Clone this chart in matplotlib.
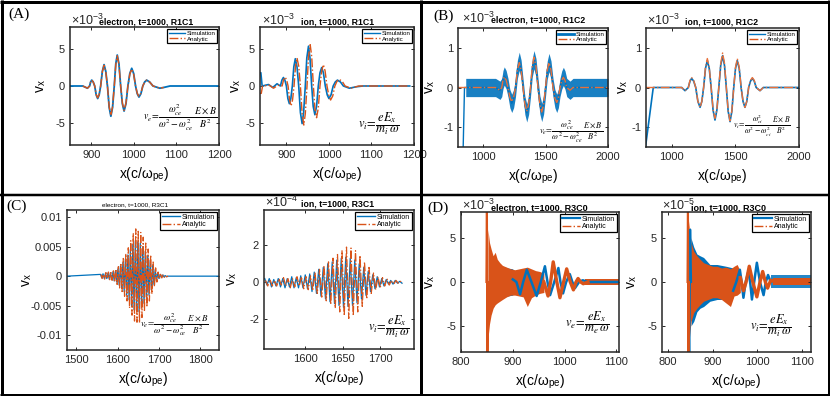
import matplotlib
matplotlib.use('Agg')
import matplotlib.pyplot as plt
import numpy as np
from matplotlib.lines import Line2D

plt.rcParams['font.family'] = ['Liberation Sans', 'DejaVu Sans']
plt.rcParams['mathtext.fontset'] = 'stix'
plt.rcParams['axes.unicode_minus'] = False

BLUE = '#0072BD'
ORANGE = '#D95319'

# ---------------- DATA ----------------
# (A) left: electron R1C1, values in 1e-3
a1_sim_x = [850, 880, 891, 896, 898.5, 901, 904.5, 908, 911.5, 915, 918.5, 922, 926, 930, 934, 938, 942, 946, 950, 954,
            957.5, 961, 965, 969, 973, 977, 981.5, 986, 990.5, 995, 999.5, 1004, 1008, 1012, 1016.5, 1021, 1025.5, 1030,
            1037, 1045, 1061, 1070, 1085, 1200]
a1_sim_y = [0, 0, -0.3, 0, 0.55, 0.8, 0.55, 0, -1.2, -1.7, -1.2, 0, 2.0, 2.9, 2.0, 0, -2.9, -4.1, -2.9, 0,
            3.0, 4.2, 3.0, 0, -2.4, -3.4, -2.4, 0, 1.7, 2.4, 1.7, 0, -1.05, -1.5, -1.05, 0, 0.55, 0.8,
            0.55, 0, -0.3, -0.2, 0, 0]
a1_ana_x = [880, 891, 896, 898.5, 901, 904.5, 908, 911.5, 915, 918.5, 922, 926, 930, 934, 938, 942, 946, 950, 954,
            957.5, 961, 965, 969, 973, 977, 981.5, 986, 990.5, 995, 999.5, 1004, 1008, 1012, 1016.5, 1021, 1025.5, 1030,
            1037, 1045, 1061, 1070]
a1_ana_y = [0, -0.3, 0, 0.55, 0.8, 0.55, 0, -1.15, -1.6, -1.15, 0, 1.95, 2.8, 1.95, 0, -2.8, -4.0, -2.8, 0,
            2.9, 4.1, 2.9, 0, -2.3, -3.3, -2.3, 0, 1.6, 2.3, 1.6, 0, -1.0, -1.4, -1.0, 0, 0.55, 0.8,
            0.55, 0, -0.3, -0.2]
# (A) right: ion R1C1, values in 1e-3
a2_sim_x = [838, 840, 843, 858, 868, 878, 886, 889.5, 893, 896.5, 900, 903.5, 907, 910.5, 914, 917.5, 921, 925, 929,
            933, 937, 940.5, 944.5, 948, 952, 955.5, 959.5, 963, 967, 971, 975, 979, 983, 987, 991.5, 996, 1000,
            1005, 1010, 1015, 1020, 1027, 1034, 1048, 1065, 1080, 1190]
a2_sim_y = [1.8, 1.8, 0, 0.2, -0.2, 0.3, 0, 0.8, 1.15, 0.8, 0, -1.7, -2.4, -1.7, 0, 2.6, 3.7, 2.6, 0,
            -3.6, -5.1, -3.6, 0, 3.8, 5.4, 3.8, 0, -2.75, -3.9, -2.75, 0, 1.8, 2.5, 1.8, 0, -1.2, -1.7,
            -1.2, 0, 0.55, 0.8, 0.55, 0, -0.3, -0.1, 0, 0]
a2_ana_x = [838, 841, 844, 860, 870, 880, 890, 893.5, 897, 900.5, 904, 907.5, 911, 914.5, 918, 921.5, 925, 929, 933,
            937, 941, 944.5, 948.5, 952, 956, 959.5, 963.5, 967, 971, 975, 979, 983, 987, 991, 995.5, 1000, 1004,
            1009, 1014, 1019, 1024, 1031, 1038, 1052, 1070, 1190]
a2_ana_y = [-1.0, -1.0, 0, 0.1, -0.3, 0.1, 0, 0.85, 1.2, 0.85, 0, -1.9, -2.7, -1.9, 0, 2.7, 3.8, 2.7, 0,
            -3.75, -5.3, -3.75, 0, 4.0, 5.6, 4.0, 0, -3.0, -4.3, -3.0, 0, 2.05, 2.9, 2.05, 0, -1.35, -1.9,
            -1.35, 0, 0.65, 0.9, 0.65, 0, -0.3, 0, 0]

# (B) left: electron R1C2, values in 1e-3
b1_ana_x = [800, 1100, 1136, 1150, 1160, 1170, 1185, 1200, 1215, 1230, 1245, 1260, 1275, 1290, 1305, 1320, 1335, 1350,
            1365, 1380, 1394, 1408, 1424, 1440, 1455, 1470, 1485, 1500, 1514, 1528, 1544, 1560, 1575, 1590, 1603, 1616,
            1630, 1643, 1656, 1670, 1696, 1720, 2000]
b1_ana_y = [0, 0, -0.07, 0, 0.19, 0.27, 0.19, 0, -0.25, -0.36, -0.25, 0, 0.44, 0.63, 0.44, 0, -0.42, -0.6,
            -0.42, 0, 0.53, 0.76, 0.53, 0, -0.43, -0.62, -0.43, 0, 0.44, 0.63, 0.44, 0, -0.27, -0.38, -0.27, 0,
            0.18, 0.26, 0.18, 0, -0.07, 0, 0]
b1_sim_x = [838, 852, 862, 1100, 1136, 1150, 1160, 1170, 1185, 1200, 1215, 1230, 1245, 1260, 1275, 1290, 1305, 1320,
            1335, 1350, 1365, 1380, 1394, 1408, 1424, 1440, 1455, 1470, 1485, 1500, 1514, 1528, 1544, 1560, 1575, 1590,
            1603, 1616, 1630, 1643, 1656, 1670, 1696, 1720, 2000]
b1_sim_y = [-2.0, 0, 0, 0, -0.07, 0, 0.2, 0.29, 0.2, 0, -0.28, -0.4, -0.28, 0, 0.46, 0.66, 0.46, 0,
            -0.45, -0.64, -0.45, 0, 0.5, 0.7, 0.5, 0, -0.44, -0.63, -0.44, 0, 0.44, 0.63, 0.44, 0, -0.28, -0.4,
            -0.28, 0, 0.19, 0.28, 0.19, 0, -0.07, 0, 0]
b1_noise_halfwidth = 0.23
# (B) right: ion R1C2, values in 1e-3
b2_ana_x = [800, 1080, 1106, 1132, 1145, 1158, 1174, 1190, 1207, 1224, 1238, 1252, 1266.5, 1281, 1296, 1311, 1326, 1341,
            1356, 1371, 1386, 1401, 1415.5, 1430, 1444.5, 1459, 1473.5, 1488, 1502, 1516, 1531, 1546, 1561, 1576,
            1590.5, 1605, 1619.5, 1634, 1649, 1664, 1694, 1720, 2000]
b2_ana_y = [0, 0, -0.08, 0, 0.18, 0.25, 0.18, 0, -0.35, -0.5, -0.35, 0, 0.51, 0.73, 0.51, 0, -0.55, -0.78,
            -0.55, 0, 0.61, 0.87, 0.61, 0, -0.59, -0.84, -0.59, 0, 0.51, 0.73, 0.51, 0, -0.35, -0.5,
            -0.35, 0, 0.18, 0.25, 0.18, 0, -0.08, 0, 0]
b2_sim_x = [790, 857, 1080, 1106, 1132, 1145, 1158, 1174, 1190, 1207, 1224, 1238, 1252, 1266.5, 1281, 1296, 1311, 1326,
            1341, 1356, 1371, 1386, 1401, 1415.5, 1430, 1444.5, 1459, 1473.5, 1488, 1502, 1516, 1531, 1546, 1561, 1576,
            1590.5, 1605, 1619.5, 1634, 1649, 1664, 1694, 1720, 2000]
b2_sim_y = [-1.65, 0, 0, -0.08, 0, 0.16, 0.23, 0.16, 0, -0.35, -0.5, -0.35, 0, 0.48, 0.68, 0.48, 0, -0.57,
            -0.82, -0.57, 0, 0.56, 0.8, 0.56, 0, -0.6, -0.86, -0.6, 0, 0.48, 0.68, 0.48, 0, -0.35, -0.5,
            -0.35, 0, 0.16, 0.23, 0.16, 0, -0.08, 0, 0]

# (C) left: electron R3C1 (values x1e-3), dense oscillation extrema
c1_ana_x = list(range(1560, 1723, 3))
c1_ana_y = [0.3, -0.4, 0.3, -0.5, 0.6, -0.4, 0.7, -0.6, 0.8, -0.7, 0.9, -1.0, 1.2,
            -1.4, 1.6, -2.0, 2.2, -2.6, 3.0, -3.4, 3.8,
            -4.2, 4.8, -5.4, 6.0, -6.6, 7.2, -7.6,
            8.0, -7.8, 7.6, -7.9, 7.4, -7.0, 6.6,
            -6.0, 5.6, -5.2, 4.6, -4.2, 3.6, -3.0,
            2.4, -1.8, 1.4, -1.0, 0.7, -0.5, 0.3,
            -0.3, 0.2, -0.2, 0.1, -0.1, 0.0]
c1_sim_x = [1478] + list(range(1559, 1722, 3)) + [1845]
c1_sim_y = [0, 0.3, -0.3, 0.4, -0.4, 0.5, -0.4, 0.5, -0.5, 0.6, -0.6, 0.7, -0.8, 0.9,
            -1.0, 1.2, -1.5, 1.7, -2.0, 2.3, -2.6, 2.9,
            -3.2, 3.6, -4.0, 4.5, -5.0, 5.4, -5.7,
            6.0, -6.0, 5.8, -6.0, 5.6, -5.3, 5.0,
            -4.6, 4.2, -3.9, 3.5, -3.2, 2.7, -2.3,
            1.8, -1.4, 1.1, -0.8, 0.5, -0.4, 0.3,
            -0.2, 0.2, -0.1, 0.1, -0.1, 0.0, 0]
# (C) right: ion R3C1, values in 1e-4
c2_ana_x = list(range(1547, 1731, 3))
c2_ana_y = [0.1, -0.2, 0.15, -0.2, 0.1, -0.2, 0.2, -0.15, 0.25, -0.2, 0.2, -0.3, 0.2, -0.25, 0.3, -0.2, 0.3, -0.35, 0.3, -0.4, 0.35, -0.45,
            0.5, -0.6, 0.7, -0.8, 0.9, -1.0, 1.1,
            -1.2, 1.3, -1.4, 1.5, -1.6, 1.7, -1.8,
            1.9, -1.95, 1.85, -1.8, 1.7, -1.6, 1.45,
            -1.3, 1.1, -0.9, 0.8, -0.6, 0.5, -0.4,
            0.3, -0.3, 0.25, -0.2, 0.2, -0.15, 0.1,
            -0.1, 0.1, -0.05, 0.05, -0.05]
c2_sim_x = list(range(1546, 1730, 3))
c2_sim_y = [0.2, -0.15, 0.2, -0.25, 0.15, -0.2, 0.2, -0.25, 0.2, -0.3, 0.2, -0.25, 0.3, -0.3, 0.25, -0.3, 0.35, -0.3, 0.4, -0.35, 0.45, -0.5,
            0.55, -0.6, 0.7, -0.75, 0.8, -0.9, 1.0,
            -1.05, 1.1, -1.15, 1.2, -1.25, 1.3, -1.35,
            1.35, -1.3, 1.3, -1.25, 1.2, -1.1, 1.0,
            -0.9, 0.8, -0.7, 0.6, -0.5, 0.4, -0.35,
            0.3, -0.25, 0.2, -0.2, 0.15, -0.1, 0.1,
            -0.1, 0.1, -0.05, 0.05, -0.05]

# (D) left: electron R3C0, values in 1e-3
d1_ana_spike_x = [849, 850, 851, 852]
d1_ana_spike_y = [0, 9.5, -9.5, 0]
d1_ana_band_x = [852, 855, 858, 862, 866, 870, 875, 880, 888, 896, 904, 912, 920, 928, 936, 944, 952, 960]
d1_ana_band_hi = [6.0, 4.5, 3.8, 3.0, 3.4, 2.6, 2.2, 1.9, 1.7, 1.5, 1.4, 1.5, 1.6, 1.7, 1.5, 1.3, 1.2, 1.0]
d1_ana_band_lo = [-6.5, -4.8, -3.8, -3.0, -2.6, -2.4, -2.2, -2.0, -1.7, -1.5, -1.5, -1.6, -1.7, -2.8, -1.8, -1.5, -1.3, -1.2]
d1_ana_x = [960, 968, 973, 978, 985, 991, 998, 1004, 1011, 1017, 1022, 1026, 1031, 1036, 1045]
d1_ana_y = [0.0, -1.6, 0, 2.3, 0, -1.8, 0, 1.5, 0, -0.9, 0, 0.4, 0, -0.2, 0]
d1_ana_tail_x = [1040, 1105]
d1_ana_tail_hi = [0.35, 0.35]
d1_ana_tail_lo = [-0.35, -0.35]
d1_sim_band_x = [853, 860, 870, 880, 890, 900]
d1_sim_band_hi = [4.0, 3.0, 2.2, 1.8, 1.6, 1.5]
d1_sim_band_lo = [-4.0, -3.0, -2.2, -1.8, -1.6, -1.5]
d1_sim_x = [900, 907, 914, 920, 927, 936, 946, 954, 962, 967, 972, 980, 988, 992, 997, 1003, 1010, 1015, 1020, 1028, 1035, 1045, 1105]
d1_sim_y = [0.3, 0, -1.4, 0, 1.4, 0, -1.6, 0, 1.8, 0, -1.5, 0, 1.6, 0, -1.3, 0, 0.9, 0, -0.7, 0, 0.2, 0, 0]

# (D) right: ion R3C0, values in 1e-5
d2_ana_spike_x = [844, 845, 846, 847]
d2_ana_spike_y = [0, 9.5, -9.5, 0]
d2_ana_band_x = [847, 852, 858, 865, 872, 880, 890, 900, 910, 920, 930, 940, 948, 955, 962]
d2_ana_band_hi = [7.0, 4.5, 3.5, 3.0, 2.6, 2.2, 2.0, 1.8, 1.8, 1.6, 1.7, 1.5, 1.8, 2.0, 1.2]
d2_ana_band_lo = [-7.0, -4.5, -3.5, -3.0, -2.6, -2.2, -2.0, -1.8, -1.8, -2.0, -2.4, -2.8, -1.6, -1.5, -1.2]
d2_ana_x = [962, 969, 975, 982, 990, 999, 1006, 1012, 1018, 1023, 1030, 1040]
d2_ana_y = [0.5, -1.0, 0, 1.8, 0, -1.7, 0, 1.2, 0, -0.7, 0.2, 0]
d2_ana_tail_x = [1035, 1120]
d2_ana_tail_hi = [0.4, 0.4]
d2_ana_tail_lo = [-0.4, -0.4]
d2_sim_spike_x = [846, 848, 850, 852]
d2_sim_spike_y = [0, -9.5, 6.0, 0]
d2_sim_band_x = [852, 858, 865, 872, 880, 894, 910, 930, 946]
d2_sim_band_hi = [5.0, 4.0, 3.2, 3.0, 2.8, 2.0, 2.0, 1.8, 1.6]
d2_sim_band_lo = [-5.0, -4.5, -3.4, -3.0, -2.8, -2.2, -2.0, -2.0, -1.8]
d2_sim_x = [946, 953, 961, 965, 969, 974, 980, 984, 988, 993, 999, 1006, 1014, 1019, 1024, 1030]
d2_sim_y = [-1.0, 0, 1.4, 0, -1.8, 0, 1.2, 0, -2.0, 0, 2.2, 0, -1.5, 0, 0.8, 0]
d2_sim_tail_x = [1030, 1120]
d2_sim_tail_hi = [0.8, 0.8]
d2_sim_tail_lo = [-0.7, -0.7]

legend_labels = ['Simulation', 'Analytic']

# ---------------- FIGURE ----------------
W, H = 830, 396
fig = plt.figure(figsize=(W / 100, H / 100), dpi=100)


def add_ax(l, t, r, b):
    return fig.add_axes([l / W, 1 - b / H, (r - l) / W, (b - t) / H])


def ftext(x, y, s, **kw):
    return fig.text(x / W, 1 - y / H, s, **kw)


def style(ax, xlim, ylim, xticks, yticks, ytl=None):
    ax.set_xlim(xlim)
    ax.set_ylim(ylim)
    ax.set_xticks(xticks)
    ax.set_yticks(yticks)
    if ytl is not None:
        ax.set_yticklabels(ytl)
    ax.tick_params(direction='in', length=2.5, width=0.7, labelsize=8, top=True, right=True, pad=3.5,
                   colors='#262626')
    for s in ax.spines.values():
        s.set_linewidth(1.1)
        s.set_color('#262626')


def legend(ax, simlw=1.0, fs=4.5):
    h = [Line2D([], [], color=BLUE, lw=simlw), Line2D([], [], color=ORANGE, lw=1.0, ls='-.')]
    lg = ax.legend(h, legend_labels, loc='upper right', fontsize=fs, frameon=True, fancybox=False,
                   edgecolor='black', framealpha=1, borderpad=0.2, labelspacing=0.05,
                   handlelength=2.6, handletextpad=0.3, borderaxespad=0.35)
    lg.get_frame().set_linewidth(0.9)


def labels(l, r, t, b, ylab_x):
    ftext(ylab_x, (t + b) / 2, 'v$_{\\mathregular{x}}$', rotation=90, ha='center', va='center', fontsize=10)
    ftext((l + r) / 2, b + 30, 'x(c/ω$_{\\mathregular{pe}}$)', ha='center', va='center', fontsize=10)


def title(cx, y, s, fs=6.3, weight='bold'):
    ftext(cx, y, s, ha='center', va='baseline', fontsize=fs, fontweight=weight)


def expo(x, y, p):
    ftext(x, y, '×10$^{\\mathregular{%s}}$' % p, ha='left', va='baseline', fontsize=9, color='#262626')


fe = r'$v_e\!=\!\dfrac{\omega_{ce}^2}{\omega^2-\omega_{ce}^2}\,\dfrac{E\times B}{B^2}$'
fi = r'$v_i\!=\!\dfrac{\omega_{ci}^2}{\omega^2-\omega_{ci}^2}\,\dfrac{E\times B}{B^2}$'
fie = r'$v_i\!=\!\dfrac{eE_x}{m_i\,\omega}$'
fee = r'$v_e\!=\!\dfrac{eE_x}{m_e\,\omega}$'

# ---- (A) left
L, T, R, B = 70, 27, 219, 145
ax = add_ax(L, T, R, B)
ax.plot(a1_sim_x, a1_sim_y, color=BLUE, lw=1.3)
ax.plot(a1_ana_x, a1_ana_y, color=ORANGE, lw=1.0, ls='-.')
style(ax, (850, 1200), (-8, 8), [900, 1000, 1100, 1200], [-5, 0, 5])
legend(ax)
ftext(217, 118, fe, ha='right', va='center', fontsize=7)
labels(L, R, T, B, 41)
expo(71, 25, '-3')
title(146, 24, 'electron, t=1000, R1C1')

# ---- (A) right
L, T, R, B = 260, 27, 414, 145
ax = add_ax(L, T, R, B)
ax.plot(a2_sim_x, a2_sim_y, color=BLUE, lw=1.2)
ax.plot(a2_ana_x, a2_ana_y, color=ORANGE, lw=1.0, ls='-.')
style(ax, (838, 1190), (-8, 8), [900, 1000, 1100, 1200], [-5, 0, 5])
legend(ax)
ftext(400, 124, fie, ha='right', va='center', fontsize=9)
labels(L, R, T, B, 236)
expo(262, 25, '-3')
title(338, 24, 'ion, t=1000, R1C1')

# ---- (B) left
L, T, R, B = 458, 28, 608, 147
ax = add_ax(L, T, R, B)
sx = np.array(b1_sim_x[2:])
sy = np.array(b1_sim_y[2:])
ax.fill_between(sx, sy - b1_noise_halfwidth, sy + b1_noise_halfwidth, color=BLUE, lw=0, alpha=0.9)
ax.plot(b1_sim_x, b1_sim_y, color=BLUE, lw=1.0)
ax.plot(b1_ana_x, b1_ana_y, color='#E8703A', lw=1.0, ls='-.')
style(ax, (800, 2000), (-1.5, 1.5), [1000, 1500, 2000], [-1, 0, 1])
legend(ax, simlw=2.0)
ftext(603, 132, fe, ha='right', va='center', fontsize=6)
labels(L, R, T, B, 430)
expo(462, 23, '-3')
title(538, 23, 'electron, t=1000, R1C2')

# ---- (B) right
L, T, R, B = 646, 28, 799, 147
ax = add_ax(L, T, R, B)
ax.plot(b2_sim_x, b2_sim_y, color=BLUE, lw=1.2)
ax.plot(b2_ana_x, b2_ana_y, color='#E8703A', lw=1.0, ls='-.')
style(ax, (800, 2000), (-1.5, 1.5), [1000, 1500, 2000], [-1, 0, 1])
legend(ax)
ftext(791, 126, fi, ha='right', va='center', fontsize=5.6)
labels(L, R, T, B, 623)
expo(647, 25, '-3')
title(722, 24, 'ion, t=1000, R1C2')

# ---- (C) left
L, T, R, B = 67, 210, 219, 350
ax = add_ax(L, T, R, B)
ax.plot(c1_sim_x, np.array(c1_sim_y) * 1e-3, color=BLUE, lw=0.9)
ax.plot(c1_ana_x, np.array(c1_ana_y) * 1e-3, color=ORANGE, lw=0.9, ls='-.')
style(ax, (1478, 1845), (-0.0125, 0.0112), [1500, 1600, 1700, 1800],
      [-0.01, -0.005, 0, 0.005, 0.01], ['-0.01', '-0.005', '0', '0.005', '0.01'])
legend(ax, fs=5)
ftext(209, 325, fe, ha='right', va='center', fontsize=6.5)
labels(L, R, T, B, 27)
title(135, 206, 'electron, t=1000, R3C1', fs=4.6, weight='normal')

# ---- (C) right
L, T, R, B = 264, 210, 414, 349
ax = add_ax(L, T, R, B)
ax.plot(c2_sim_x, c2_sim_y, color=BLUE, lw=0.9)
ax.plot(c2_ana_x, c2_ana_y, color=ORANGE, lw=0.9, ls='-.')
style(ax, (1545, 1745), (-3.6, 3.9), [1600, 1650, 1700], [-2, 0, 2])
legend(ax, fs=5)
ftext(410, 327, fie, ha='right', va='center', fontsize=9)
labels(L, R, T, B, 232)
expo(265, 207, '-4')
title(338, 207, 'ion, t=1000, R3C1')

# ---- (D) left
L, T, R, B = 461, 212, 619, 352
ax = add_ax(L, T, R, B)
ax.fill_between(d1_sim_band_x, d1_sim_band_lo, d1_sim_band_hi, color=BLUE, lw=0)
ax.plot(d1_sim_x, d1_sim_y, color=BLUE, lw=1.8)
ax.fill_between(d1_ana_band_x, d1_ana_band_lo, d1_ana_band_hi, color=ORANGE, lw=0)
ax.plot(d1_ana_spike_x, d1_ana_spike_y, color=ORANGE, lw=1.5)
ax.plot(d1_ana_x, d1_ana_y, color=ORANGE, lw=2.4)
ax.fill_between(d1_ana_tail_x, d1_ana_tail_lo, d1_ana_tail_hi, color=ORANGE, lw=0)
style(ax, (800, 1105), (-8, 8), [800, 900, 1000, 1100], [-5, 0, 5])
legend(ax, simlw=1.6, fs=5)
ftext(610, 323, fee, ha='right', va='center', fontsize=9)
labels(L, R, T, B, 430)
expo(462, 210, '-3')
title(539, 210, 'electron, t=1000, R3C0', fs=6.5)

# ---- (D) right
L, T, R, B = 662, 212, 811, 352
ax = add_ax(L, T, R, B)
ax.fill_between(d2_sim_band_x, d2_sim_band_lo, d2_sim_band_hi, color=BLUE, lw=0)
ax.plot(d2_sim_spike_x, d2_sim_spike_y, color=BLUE, lw=1.5)
ax.plot(d2_sim_x, d2_sim_y, color=BLUE, lw=1.8)
ax.fill_between(d2_sim_tail_x, d2_sim_tail_lo, d2_sim_tail_hi, color=BLUE, lw=0, alpha=0.85)
ax.fill_between(d2_ana_band_x, d2_ana_band_lo, d2_ana_band_hi, color=ORANGE, lw=0)
ax.plot(d2_ana_spike_x, d2_ana_spike_y, color=ORANGE, lw=1.5)
ax.plot(d2_ana_x, d2_ana_y, color=ORANGE, lw=2.4)
ax.fill_between(d2_ana_tail_x, d2_ana_tail_lo, d2_ana_tail_hi, color=ORANGE, lw=0)
style(ax, (787, 1120), (-8, 8), [800, 900, 1000, 1100], [-5, 0, 5])
legend(ax, simlw=1.6, fs=5)
ftext(792, 326, fie, ha='right', va='center', fontsize=9)
labels(L, R, T, B, 632)
expo(662, 210, '-5')
title(728, 210, 'ion, t=1000, R3C0', fs=6.5)

# ---- panel letters
for x, y, s in [(19, 14, '(A)'), (444, 16, '(B)'), (17, 206, '(C)'), (438, 208, '(D)')]:
    ftext(x, y, s, ha='center', va='center', fontsize=11, family='Liberation Serif')


# ---- frames
def fline(x0, y0, x1, y1, lwpx):
    fig.add_artist(Line2D([x0 / W, x1 / W], [1 - y0 / H, 1 - y1 / H], transform=fig.transFigure,
                          color='black', lw=lwpx * 0.72, solid_capstyle='butt'))


fline(0, 1.5, W, 1.5, 3)
fline(0, 394.5, W, 394.5, 3)
fline(1.5, 0, 1.5, H, 3)
fline(828.5, 0, 828.5, H, 3)
fline(0, 194.5, W, 194.5, 2.5)
fline(421, 0, 421, H, 3)

fig.savefig('out.png', dpi=100)
